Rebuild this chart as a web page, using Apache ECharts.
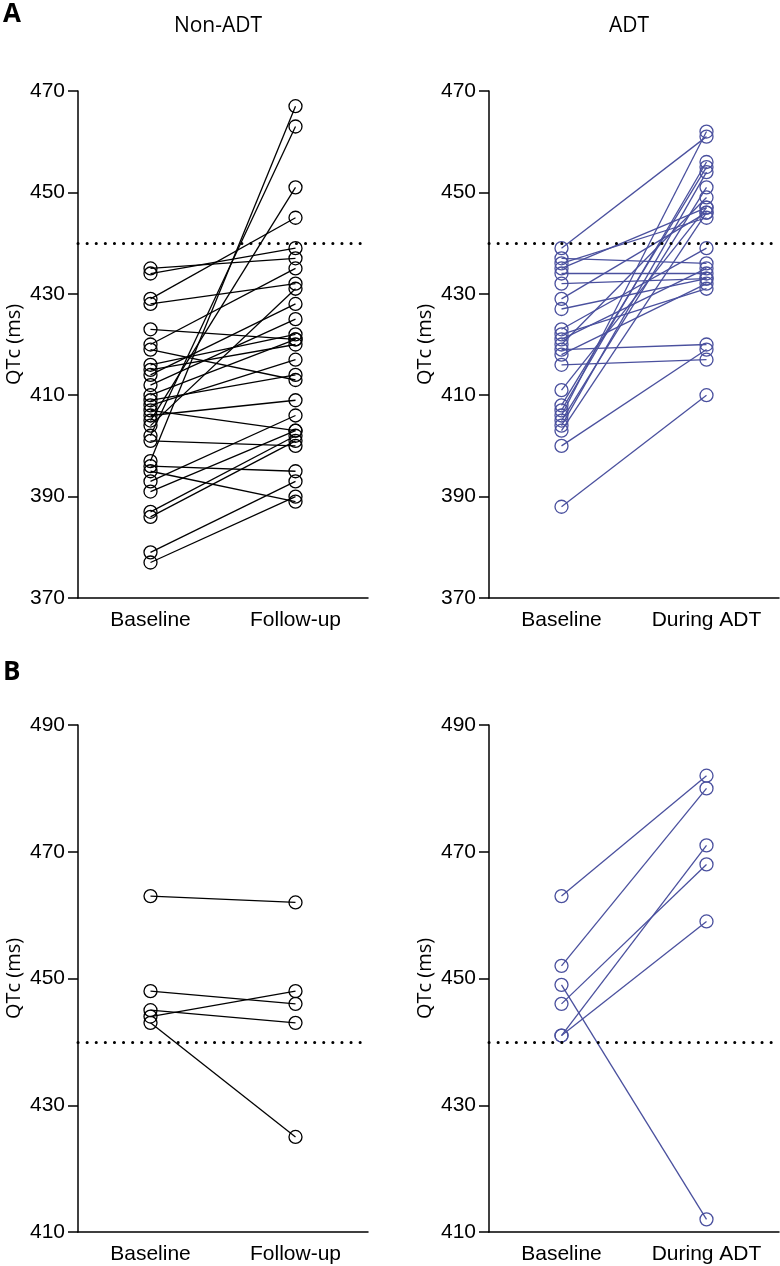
<!DOCTYPE html>
<html>
<head>
<meta charset="utf-8">
<script src="https://cdn.jsdelivr.net/npm/echarts@6/dist/echarts.min.js"></script>
<style>
html,body{margin:0;padding:0;background:#fff;}
#chart{width:780px;height:1266px;}
</style>
</head>
<body>
<div id="chart"></div>
<script>
// ---- data ----
const catsNonAdt = ['Baseline', 'Follow-up'];
const catsAdt = ['Baseline', 'During ADT'];
const ticksA = [370, 390, 410, 430, 450, 470];
const ticksB = [410, 430, 450, 470, 490];
const threshold = 440;

// Panel A, Non-ADT
const nonAdtBaseA   = [435, 434, 429, 428, 423, 420, 419, 416, 415, 414, 412, 410, 409, 408, 407, 406, 405, 402, 401, 397, 396, 395, 393, 391, 387, 386, 379, 377, 404];
const nonAdtFollowA = [437, 439, 445, 432, 421, 435, 413, 422, 420, 428, 425, 421, 414, 417, 403, 409, 451, 463, 400, 467, 395, 389, 406, 403, 402, 401, 393, 390, 431];
// Panel A, ADT
const adtBaseA   = [439, 437, 436, 435, 434, 432, 429, 427, 423, 422, 421, 420, 419, 418, 416, 411, 408, 407, 406, 405, 404, 403, 400, 388];
const adtDuringA = [461, 436, 445, 447, 434, 433, 446, 433, 439, 431, 435, 449, 420, 432, 417, 447, 455, 456, 462, 451, 454, 446, 419, 410];
// Panel B, Non-ADT
const nonAdtBaseB   = [463, 448, 445, 444, 443];
const nonAdtFollowB = [462, 446, 443, 448, 425];
// Panel B, ADT
const adtBaseB   = [463, 452, 449, 446, 441, 441];
const adtDuringB = [482, 480, 412, 468, 471, 459];

// ---- styling ----
const BLACK = '#000000';
const BLUE = '#4a509e';
const tickFont = 'Liberation Sans, Arial, sans-serif';
const titleFont = 'Open Sans, sans-serif';

const grids = [
  {left: 78, top: 91, width: 290, height: 507},
  {left: 489, top: 91, width: 290, height: 507},
  {left: 78, top: 725, width: 290, height: 507},
  {left: 489, top: 725, width: 290, height: 507}
];

function xAxisFor(i, cats) {
  return {
    type: 'category', gridIndex: i, data: cats, boundaryGap: true,
    axisLine: {show: true, lineStyle: {color: BLACK, width: 1.5}},
    axisTick: {show: false},
    axisLabel: {color: BLACK, fontSize: 21, fontFamily: tickFont, margin: 12},
    splitLine: {show: false}
  };
}
function yAxisFor(i, ticks) {
  return {
    type: 'value', gridIndex: i,
    min: ticks[0], max: ticks[ticks.length - 1], interval: ticks[1] - ticks[0],
    axisLine: {show: true, lineStyle: {color: BLACK, width: 1.5}},
    axisTick: {show: true, inside: false, length: 10, lineStyle: {color: BLACK, width: 1.5}},
    axisLabel: {color: BLACK, fontSize: 21, fontFamily: tickFont, margin: 13},
    splitLine: {show: false},
    name: 'QTc (ms)', nameLocation: 'middle', nameGap: 54,
    nameTextStyle: {color: BLACK, fontSize: 20, fontFamily: titleFont}
  };
}

const series = [];
function addPairs(idx, base, after, color) {
  for (let k = 0; k < base.length; k++) {
    series.push({
      type: 'line', xAxisIndex: idx, yAxisIndex: idx,
      data: [base[k], after[k]],
      symbol: 'circle', symbolSize: 13,
      lineStyle: {color: color, width: 1.3},
      itemStyle: {color: 'rgba(255,255,255,0)', borderColor: color, borderWidth: 1.3},
      emphasis: {disabled: true}, silent: true, animation: false
    });
  }
  series.push({
    type: 'line', xAxisIndex: idx, yAxisIndex: idx, data: [],
    silent: true, animation: false,
    markLine: {
      silent: true, symbol: ['none', 'none'], label: {show: false},
      lineStyle: {color: BLACK, width: 3, type: [0.1, 9], cap: 'round'},
      data: [{yAxis: threshold}]
    }
  });
}
addPairs(0, nonAdtBaseA, nonAdtFollowA, BLACK);
addPairs(1, adtBaseA, adtDuringA, BLUE);
addPairs(2, nonAdtBaseB, nonAdtFollowB, BLACK);
addPairs(3, adtBaseB, adtDuringB, BLUE);

const chart = echarts.init(document.getElementById('chart'), null, {renderer: 'canvas'});
chart.setOption({
  backgroundColor: '#fff',
  animation: false,
  grid: grids,
  xAxis: [xAxisFor(0, catsNonAdt), xAxisFor(1, catsAdt), xAxisFor(2, catsNonAdt), xAxisFor(3, catsAdt)],
  yAxis: [yAxisFor(0, ticksA), yAxisFor(1, ticksA), yAxisFor(2, ticksB), yAxisFor(3, ticksB)],
  graphic: [
    {type: 'text', x: 3, y: 2, style: {text: 'A', fontSize: 26, fontWeight: 'bold', fontFamily: titleFont, fill: BLACK}},
    {type: 'text', x: 3, y: 660, style: {text: 'B', fontSize: 26, fontWeight: 'bold', fontFamily: titleFont, fill: BLACK}},
    {type: 'text', x: 218, y: 26, style: {text: 'Non-ADT', fontSize: 21, fontFamily: titleFont, fill: BLACK, textAlign: 'center', textVerticalAlign: 'middle'}},
    {type: 'text', x: 629, y: 26, style: {text: 'ADT', fontSize: 21, fontFamily: titleFont, fill: BLACK, textAlign: 'center', textVerticalAlign: 'middle'}}
  ],
  series: series
});
</script>
</body>
</html>
